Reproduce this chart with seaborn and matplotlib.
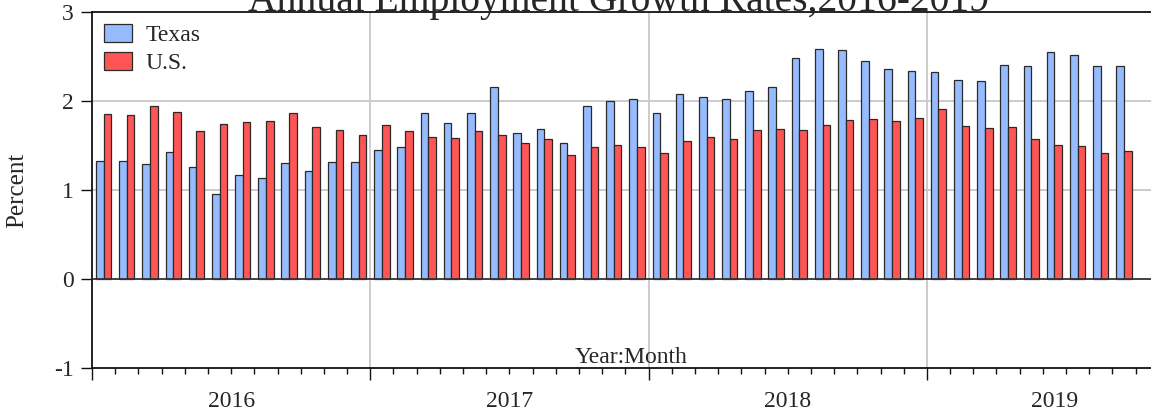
import matplotlib
matplotlib.use("Agg")
import matplotlib.pyplot as plt
import matplotlib.transforms as mtransforms
import numpy as np
import pandas as pd
import seaborn as sns

# monthly data, Jan 2016 - Sep 2019
years = [2016, 2017, 2018, 2019]
months = [f"{y}:{m:02d}" for y in years for m in range(1, 13)][:45]

texas = [
    1.33, 1.33, 1.29, 1.43, 1.26, 0.96, 1.17, 1.14, 1.30, 1.21, 1.31, 1.32,
    1.45, 1.48, 1.87, 1.75, 1.86, 2.16, 1.64, 1.69, 1.53, 1.94, 2.00, 2.02,
    1.87, 2.08, 2.05, 2.02, 2.11, 2.16, 2.48, 2.58, 2.57, 2.45, 2.36, 2.34,
    2.33, 2.24, 2.22, 2.40, 2.39, 2.55, 2.52, 2.39, 2.39,
]
us = [
    1.85, 1.84, 1.94, 1.88, 1.66, 1.74, 1.76, 1.77, 1.87, 1.71, 1.67, 1.62,
    1.73, 1.66, 1.59, 1.58, 1.66, 1.62, 1.53, 1.57, 1.39, 1.48, 1.51, 1.48,
    1.42, 1.55, 1.59, 1.57, 1.67, 1.69, 1.67, 1.73, 1.79, 1.80, 1.78, 1.81,
    1.91, 1.72, 1.70, 1.71, 1.57, 1.51, 1.50, 1.42, 1.44,
]
series_names = ["Texas", "U.S."]
series_colors = ["#96BCFF", "#FF5555"]

W, H = 1151, 413


def build_frame() -> pd.DataFrame:
    rows = []
    for name, vals in zip(series_names, [texas, us]):
        for m, v in zip(months, vals):
            rows.append({"month": m, "series": name, "value": v})
    return pd.DataFrame(rows)


def main() -> None:
    sns.set_theme(style="white")
    plt.rcParams["font.family"] = ["Liberation Serif", "DejaVu Serif"]

    df = build_frame()

    fig = plt.figure(figsize=(W / 100, H / 100), dpi=100)
    ax = fig.add_axes([92 / W, 45 / H, (1182 - 92) / W, (368 - 12) / H])

    # grid first so bars sit on top
    for v in [1, 2]:
        ax.axhline(v, color="#c8c8c8", lw=1.3, zorder=0)
    for xv in [11.5, 23.5, 35.5]:
        ax.axvline(xv, color="#c8c8c8", lw=1.3, zorder=0)

    sns.barplot(
        data=df, x="month", y="value", hue="series", order=months,
        hue_order=series_names, palette=series_colors, width=0.66,
        edgecolor="#2a2a2a", linewidth=0.9, saturation=1, ax=ax, zorder=2,
    )
    ax.axhline(0, color="#333333", lw=1.3, zorder=3)

    x_lo, x_hi = -0.5, 46.5
    ax.set_xlim(x_lo, x_hi)
    ax.set_ylim(-1, 3)
    ax.set_yticks([-1, 0, 1, 2, 3])
    ax.set_yticklabels(["-1", "0", "1", "2", "3"])
    ax.set_xticks(np.arange(-0.5, 47, 12))
    ax.set_xticks(np.arange(-0.5, 47, 1), minor=True)
    ax.set_xticklabels([])
    ax.set_xlabel("")
    ax.set_ylabel("")

    ax.tick_params(axis="y", which="major", direction="out", length=8, width=1.0,
                   left=True, labelsize=17, pad=5, color="#111111")
    ax.tick_params(axis="x", which="major", direction="out", length=8.5, width=1.0,
                   bottom=True, color="#111111")
    ax.tick_params(axis="x", which="minor", direction="out", length=4.3, width=1.0,
                   bottom=True, color="#111111")

    for side in ["left", "bottom", "top"]:
        ax.spines[side].set_color("#111111")
        ax.spines[side].set_linewidth(1.3)
    ax.spines["right"].set_visible(False)

    handles, labels = ax.get_legend_handles_labels()
    ax.legend(handles, labels, loc="upper left", frameon=False, fontsize=17,
              handlelength=1.2, handleheight=0.78, handletextpad=0.55,
              labelspacing=0.25, borderaxespad=0.2, borderpad=0.3)

    # year labels centered under the visible part of each year block
    trans = mtransforms.blended_transform_factory(ax.transData, fig.transFigure)
    for i, y in enumerate(years):
        start = max(x_lo, -0.5 + 12 * i)
        end = min(x_hi, -0.5 + 12 * (i + 1))
        ax.text((start + end) / 2, (H - 407) / H, str(y), transform=trans,
                ha="center", va="baseline", fontsize=17, clip_on=False)

    fig.text(631 / W, (H - 363) / H, "Year:Month", ha="center", va="baseline",
             fontsize=17)
    fig.text(17 / W, (H - 190) / H, "Percent", rotation=90, ha="center",
             va="center", fontsize=18)
    fig.text(619 / W, (H - 11.5) / H, "Annual Employment Growth Rates,2016-2019",
             ha="center", va="baseline", fontsize=28.5)

    fig.savefig("out.png", dpi=100)
    plt.close(fig)


if __name__ == "__main__":
    main()
